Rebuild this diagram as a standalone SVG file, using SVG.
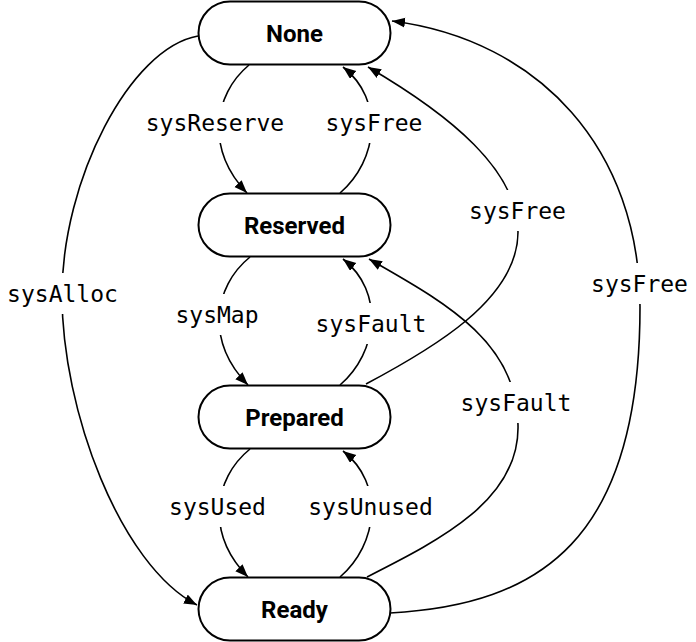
<svg xmlns="http://www.w3.org/2000/svg" width="696" height="642" viewBox="0 0 696 642">
<style>
.node rect{fill:#fff;stroke:#000;stroke-width:2}
.node text{font-family:Roboto,"Liberation Sans",sans-serif;font-weight:bold;font-size:24px;text-anchor:middle;fill:#000}
.edge{fill:none;stroke:#000;stroke-width:1.6;marker-end:url(#arr)}
.lbl rect{fill:#fff}
.lbl text{font-family:"DejaVu Sans Mono","Liberation Mono",monospace;font-size:23px;text-anchor:middle;fill:#000}
</style>
<defs>
<marker id="arr" markerUnits="userSpaceOnUse" markerWidth="14" markerHeight="12" refX="13" refY="5" orient="auto">
<path d="M0,0 L13,5 L0,10 z" fill="#000"/>
</marker>
</defs>
<g id="connectors">
<path class="edge" d="M198,36 C130,48 62,180 62,295 C62,410 120,565 197,605"/>
<path class="edge" d="M249,65 C213,95 206,150 247,193"/>
<path class="edge" d="M340,193 C378,160 385,100 343,67"/>
<path class="edge" d="M250,257 C213,287 206,342 248,385"/>
<path class="edge" d="M340,385 C378,352 385,292 343,259"/>
<path class="edge" d="M250,449 C213,479 206,534 248,577"/>
<path class="edge" d="M340,577 C378,544 385,484 343,451"/>
<path class="edge" d="M366,384 C430,350 518,300 518,232 C518,170 450,115 368,67"/>
<path class="edge" d="M367,577 C440,540 520,500 518,425 C518,340 440,300 369,259"/>
<path class="edge" d="M390,613 C540,605 640,540 640,307 C640,150 540,40 392,21"/>
</g>
<g id="labels">
<g class="lbl"><rect x="42" y="273" width="40" height="41"/><text x="62.5" y="302">sysAlloc</text></g>
<g class="lbl"><rect x="195" y="102" width="40" height="41"/><text x="215" y="131">sysReserve</text></g>
<g class="lbl"><rect x="352" y="102" width="40" height="41"/><text x="374" y="131">sysFree</text></g>
<g class="lbl"><rect x="197" y="294" width="40" height="41"/><text x="217" y="323">sysMap</text></g>
<g class="lbl"><rect x="350" y="303" width="40" height="41"/><text x="371" y="332">sysFault</text></g>
<g class="lbl"><rect x="197" y="486" width="40" height="41"/><text x="217.5" y="515">sysUsed</text></g>
<g class="lbl"><rect x="350" y="486" width="40" height="41"/><text x="370.5" y="515">sysUnused</text></g>
<g class="lbl"><rect x="497" y="190" width="40" height="41"/><text x="517.5" y="219">sysFree</text></g>
<g class="lbl"><rect x="496" y="382" width="40" height="41"/><text x="516" y="411">sysFault</text></g>
<g class="lbl"><rect x="619" y="263" width="40" height="41"/><text x="639.5" y="292">sysFree</text></g>
</g>
<g id="node-none" class="node"><rect x="198.5" y="1.5" width="192" height="63" rx="31.5"/><text x="294.5" y="41.5">None</text></g>
<g id="node-reserved" class="node"><rect x="198.5" y="193.5" width="192" height="63" rx="31.5"/><text x="294.5" y="233.5">Reserved</text></g>
<g id="node-prepared" class="node"><rect x="198.5" y="385.5" width="192" height="63" rx="31.5"/><text x="294.5" y="425.5">Prepared</text></g>
<g id="node-ready" class="node"><rect x="198.5" y="577.5" width="192" height="63" rx="31.5"/><text x="294.5" y="617.5">Ready</text></g>
</svg>
